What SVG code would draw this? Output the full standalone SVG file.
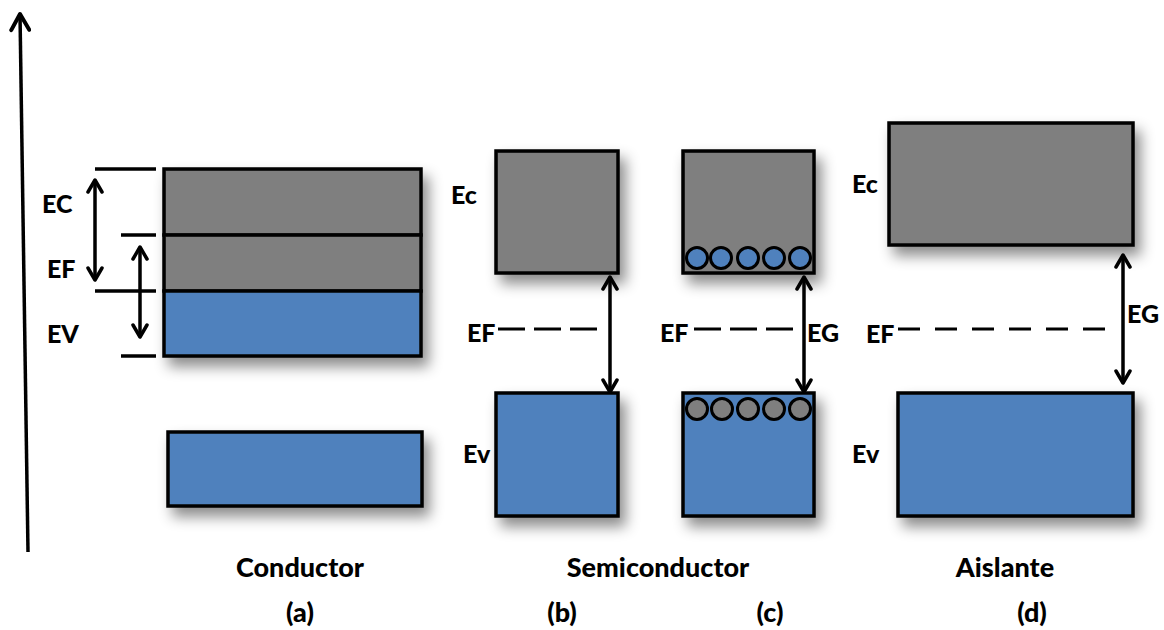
<svg xmlns="http://www.w3.org/2000/svg" width="1164" height="630" viewBox="0 0 1164 630">
<style>
.band{stroke:#000;stroke-width:3.5}
.cb{fill:#7f7f7f}
.vb{fill:#4f81bd}
.lbl{font-family:Lato,"Open Sans",sans-serif;font-weight:900;font-size:25px;fill:#000}
.big{font-size:27px}
.ax{stroke:#000;stroke-width:3.5;fill:none}
.tick{stroke:#000;stroke-width:3.5}
.ef{stroke:#000;stroke-width:3;fill:none}
.dot{stroke:#000;stroke-width:3}
</style>
<defs>
<filter id="sh" x="-20%" y="-20%" width="150%" height="160%">
<feDropShadow dx="6" dy="9" stdDeviation="7" flood-color="#000" flood-opacity="0.45"/>
</filter>
<marker id="ah" viewBox="0 0 18 18" refX="15" refY="9" markerWidth="18" markerHeight="18" markerUnits="userSpaceOnUse" orient="auto-start-reverse">
<path d="M3,2 L15,9 L3,16" fill="none" stroke="#000" stroke-width="3.5" stroke-linecap="round" stroke-linejoin="round"/>
</marker>
<marker id="ahb" viewBox="0 0 22 22" refX="19" refY="11" markerWidth="22" markerHeight="22" markerUnits="userSpaceOnUse" orient="auto">
<path d="M3,2 L19,11 L3,20" fill="none" stroke="#000" stroke-width="4" stroke-linecap="round" stroke-linejoin="round"/>
</marker>
</defs>
<rect width="1164" height="630" fill="#fff"/>

<g id="axis">
<line x1="28" y1="552" x2="20" y2="14" class="ax" stroke-width="4.5" marker-end="url(#ahb)"/>
</g>

<g id="conductor">
<g filter="url(#sh)">
<rect x="164" y="169" width="257" height="66" class="band cb"/>
<rect x="164" y="235" width="257" height="56" class="band cb"/>
<rect x="164" y="291" width="257" height="65" class="band vb"/>
</g>
<rect x="168" y="432" width="254" height="74" class="band vb" filter="url(#sh)"/>
<line x1="95" y1="169" x2="156" y2="169" class="tick"/>
<line x1="121" y1="235" x2="156" y2="235" class="tick"/>
<line x1="95" y1="291" x2="156" y2="291" class="tick"/>
<line x1="121" y1="356" x2="156" y2="356" class="tick"/>
<text x="42" y="213" class="lbl">EC</text>
<text x="47" y="278" class="lbl">EF</text>
<text x="47" y="343" class="lbl">EV</text>
<text x="300" y="577" class="lbl big" text-anchor="middle">Conductor</text>
<text x="300" y="622" class="lbl big" text-anchor="middle">(a)</text>
</g>

<g id="semiconductor-b">
<rect x="496" y="151" width="122" height="122" class="band cb" filter="url(#sh)"/>
<rect x="496" y="393" width="122" height="123" class="band vb" filter="url(#sh)"/>
<text x="451" y="204" class="lbl">Ec</text>
<text x="463" y="463" class="lbl">Ev</text>
<text x="467" y="342" class="lbl">EF</text>
<line x1="498" y1="329" x2="598" y2="329" class="ef" stroke-dasharray="27 9"/>
<text x="562" y="622" class="lbl big" text-anchor="middle">(b)</text>
</g>

<g id="semiconductor-c">
<rect x="683" y="151" width="131" height="122" class="band cb" filter="url(#sh)"/>
<rect x="683" y="393" width="131" height="123" class="band vb" filter="url(#sh)"/>
<g class="vb">
<circle cx="697" cy="258" r="10.5" class="dot"/>
<circle cx="721" cy="258" r="10.5" class="dot"/>
<circle cx="748" cy="258" r="10.5" class="dot"/>
<circle cx="774" cy="258" r="10.5" class="dot"/>
<circle cx="800" cy="258" r="10.5" class="dot"/>
</g>
<g class="cb">
<circle cx="697" cy="409" r="10.5" class="dot"/>
<circle cx="722" cy="409" r="10.5" class="dot"/>
<circle cx="748" cy="409" r="10.5" class="dot"/>
<circle cx="774" cy="409" r="10.5" class="dot"/>
<circle cx="800" cy="409" r="10.5" class="dot"/>
</g>
<text x="660" y="342" class="lbl">EF</text>
<line x1="694" y1="329" x2="795" y2="329" class="ef" stroke-dasharray="27 9"/>
<text x="807" y="342" class="lbl">EG</text>
<text x="658" y="577" class="lbl big" text-anchor="middle">Semiconductor</text>
<text x="770" y="622" class="lbl big" text-anchor="middle">(c)</text>
</g>

<g id="aislante-d">
<rect x="889" y="123" width="244" height="122" class="band cb" filter="url(#sh)"/>
<rect x="898" y="393" width="235" height="123" class="band vb" filter="url(#sh)"/>
<text x="852" y="193" class="lbl">Ec</text>
<text x="852" y="463" class="lbl">Ev</text>
<text x="866" y="343" class="lbl">EF</text>
<line x1="898" y1="329" x2="1113" y2="329" class="ef" stroke-dasharray="22 15"/>
<text x="1127" y="323" class="lbl">EG</text>
<text x="1005" y="577" class="lbl big" text-anchor="middle">Aislante</text>
<text x="1032" y="622" class="lbl big" text-anchor="middle">(d)</text>
</g>

<g id="connectors">
<line x1="95" y1="180" x2="95" y2="280" class="ax" marker-start="url(#ah)" marker-end="url(#ah)"/>
<line x1="140" y1="247" x2="140" y2="337" class="ax" marker-start="url(#ah)" marker-end="url(#ah)"/>
<line x1="610" y1="277" x2="610" y2="392" class="ax" marker-start="url(#ah)" marker-end="url(#ah)"/>
<line x1="804" y1="277" x2="804" y2="392" class="ax" marker-start="url(#ah)" marker-end="url(#ah)"/>
<line x1="1123" y1="255" x2="1123" y2="383" class="ax" marker-start="url(#ah)" marker-end="url(#ah)"/>
</g>
</svg>
